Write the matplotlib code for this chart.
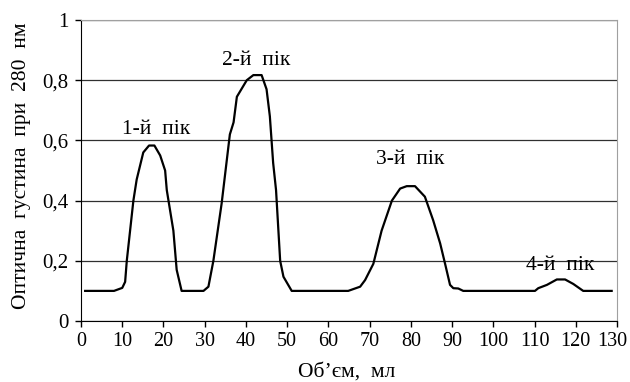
import matplotlib
matplotlib.use("Agg")
import matplotlib.pyplot as plt
import matplotlib.transforms as mtransforms

plt.rcParams['font.family'] = ['Liberation Serif', 'DejaVu Serif']

# elution profile
volume = [1, 8, 9, 10, 10.7, 11.1, 12.7, 13.5, 15.1, 16.5, 17.8, 19.2, 20.4, 20.8, 22.4, 23.2, 24.4,
          29.7, 30.9, 32.1, 34.1, 36.1, 37.0, 37.8, 40.2, 41.8, 43.8, 45.0, 45.8, 46.6, 47.3, 48.3, 49.1, 51.1,
          64.8, 67.7, 68.9, 70.9, 72.9, 75.4, 77.4, 79.0, 81.0, 83.4, 85.4, 87.1, 88.3, 89.5, 90.3, 91.5, 92.7,
          110.1, 110.9, 113.0, 115.4, 117.4, 119.4, 121.8, 128.7]
density = [0.1, 0.1, 0.105, 0.11, 0.13, 0.2, 0.4, 0.47, 0.56, 0.583, 0.583, 0.55, 0.5, 0.435, 0.3, 0.17, 0.1,
           0.1, 0.114, 0.2, 0.39, 0.62, 0.66, 0.745, 0.8, 0.817, 0.817, 0.77, 0.68, 0.525, 0.435, 0.2, 0.147, 0.1,
           0.1, 0.114, 0.136, 0.19, 0.3, 0.4, 0.44, 0.448, 0.448, 0.413, 0.335, 0.258, 0.19, 0.12, 0.109, 0.108, 0.1,
           0.1, 0.109, 0.12, 0.138, 0.138, 0.123, 0.1, 0.1]

peak_names = ['1-й  пік', '2-й  пік', '3-й  пік', '4-й  пік']
peak_x = [18.3, 42.6, 79.8, 116.2]
peak_y = [0.635, 0.867, 0.535, 0.186]

x_ticks = list(range(0, 131, 10))
y_ticks = [0, 0.2, 0.4, 0.6, 0.8, 1]
y_labels = ['0', '0,2', '0,4', '0,6', '0,8', '1']

fig = plt.figure(figsize=(6.3, 3.82), dpi=100)
ax = fig.add_axes([0.1286, 0.1597, 0.8508, 0.7879])

ax.plot(volume, density, color='black', lw=1.6, solid_joinstyle='round')
for name, x, y in zip(peak_names, peak_x, peak_y):
    ax.text(x, y, name, ha='center', va='center', fontsize=15.5)

ax.set_xlim(0, 130)
ax.set_ylim(0, 1)
ax.set_xticks(x_ticks)
ax.set_yticks(y_ticks)
ax.set_yticklabels(y_labels)
ax.tick_params(axis='both', direction='out', width=1)
ax.tick_params(axis='x', length=4, pad=4, labelsize=14.5)
ax.tick_params(axis='y', length=4, pad=5, labelsize=15)
ax.yaxis.grid(True, color='#303030', lw=0.9)
ax.set_axisbelow(True)
for s in ['top', 'right']:
    ax.spines[s].set_color('#a0a0a0')
for s in ['left', 'bottom']:
    ax.spines[s].set_color('black')

# nudge the last x label left so it stays inside the figure
last = ax.get_xticklabels()[-1]
last.set_transform(last.get_transform() + mtransforms.ScaledTranslation(-0.045, 0, fig.dpi_scale_trans))

fig.text(347 / 630, 1 - 372 / 382, 'Об’єм,  мл', fontsize=15.5, ha='center', va='center')
fig.text(22 / 630, 1 - 166 / 382, 'Оптична  густина  при  280  нм', fontsize=15.5,
         rotation=90, ha='center', va='center')

fig.savefig('out.png', dpi=100)
